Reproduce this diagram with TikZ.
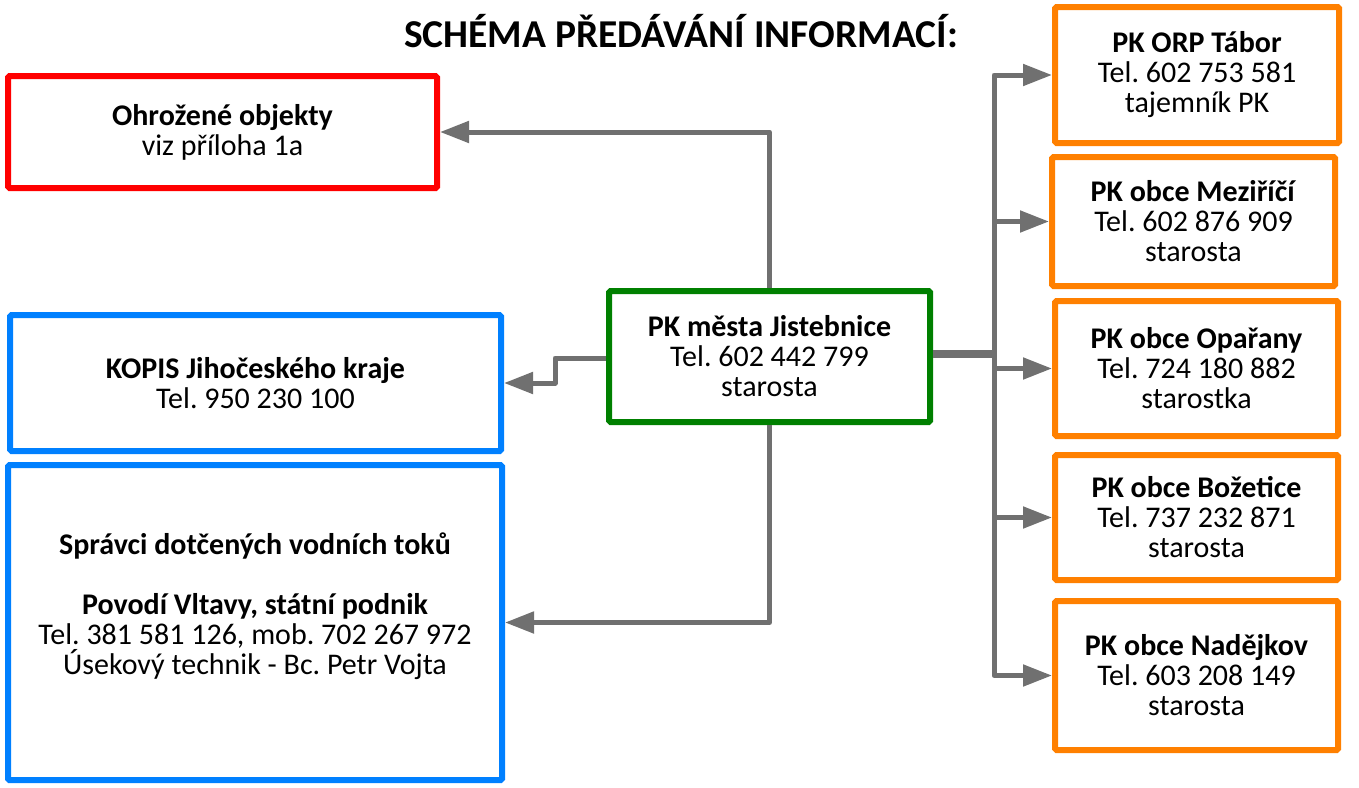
\documentclass[tikz,border=0pt]{standalone}
\usepackage{fontspec}
\setmainfont{Carlito}
\usetikzlibrary{arrows.meta,calc}
\frenchspacing
\definecolor{cred}{RGB}{255,0,0}
\definecolor{cblue}{RGB}{0,128,255}
\definecolor{cgreen}{RGB}{0,128,0}
\definecolor{corange}{RGB}{255,128,0}
\definecolor{cgray}{RGB}{112,112,112}
\tikzset{
  box/.style={draw, line width=6pt, rounded corners=1.5pt, fill=white, align=center,
    font=\fontsize{30}{30}\selectfont, inner sep=0pt},
  redbox/.style={box, draw=cred},
  bluebox/.style={box, draw=cblue},
  greenbox/.style={box, draw=cgreen},
  orangebox/.style={box, draw=corange},
  conn/.style={draw=cgray, line width=5pt, line join=round,
    -{Triangle[length=29pt,width=21pt]}},
  thick conn/.style={draw=cgray, line width=8pt},
  title/.style={font=\fontsize{39.5}{39.5}\selectfont\bfseries, inner sep=0pt}
}
\begin{document}
\begin{tikzpicture}[x=1pt,y=-1pt]
\useasboundingbox (0,0) rectangle (1359,787);

\node[title, anchor=base] (title) at (681,47) {SCHÉMA PŘEDÁVÁNÍ INFORMACÍ:};

% left boxes
\node[redbox, minimum width=429pt, minimum height=112pt] (red) at (222.5,132)
  {\textbf{Ohrožené objekty}\\viz příloha 1a};
\node[bluebox, minimum width=491pt, minimum height=136pt] (kopis) at (255.5,383)
  {\textbf{KOPIS Jihočeského kraje}\\Tel. 950 230 100};
\node[bluebox, minimum width=494pt, minimum height=315pt] (sprav) at (255,622.5) {};
\node[align=center, font=\fontsize{30}{30}\selectfont, inner sep=0pt] (spravtext) at (255,606)
  {\textbf{Správci dotčených vodních toků}\\[30pt]\textbf{Povodí Vltavy, státní podnik}\\Tel. 381 581 126, mob. 702 267 972\\Úsekový technik - Bc. Petr Vojta};

% center
\node[greenbox, minimum width=321pt, minimum height=131pt] (green) at (769.5,356.5)
  {\textbf{PK města Jistebnice}\\Tel. 602 442 799\\starosta};

% right boxes
\node[orangebox, minimum width=284pt, minimum height=136pt] (o1) at (1197,75)
  {\textbf{PK ORP Tábor}\\Tel. 602 753 581\\tajemník PK};
\node[orangebox, minimum width=283pt, minimum height=129pt] (o2) at (1193.5,221.5)
  {\textbf{PK obce Meziříčí}\\Tel. 602 876 909\\starosta};
\node[orangebox, minimum width=283pt, minimum height=135pt] (o3) at (1196.5,368.5)
  {\textbf{PK obce Opařany}\\Tel. 724 180 882\\starostka};
\node[orangebox, minimum width=283pt, minimum height=125pt] (o4) at (1196.5,517.5)
  {\textbf{PK obce Božetice}\\Tel. 737 232 871\\starosta};
\node[orangebox, minimum width=283pt, minimum height=149pt] (o5) at (1196.5,675.5)
  {\textbf{PK obce Nadějkov}\\Tel. 603 208 149\\starosta};

% connectors
\draw[conn] (green.north) |- (red.east);
\draw[conn] ([yshift=-1.5pt]green.west) -- ++(-51,0) |- (kopis.east);
\draw[conn] (green.south) |- (sprav.east);

\coordinate (bus) at (994,354);
\draw[thick conn] (green.east |- bus) -- (bus);
\draw[conn] (bus) |- (o1.west);
\draw[conn] (bus) |- (o5.west);
\draw[conn] (bus |- o2.west) -- (o2.west);
\draw[conn] (bus |- o3.west) -- (o3.west);
\draw[conn] (bus |- o4.west) -- (o4.west);
\end{tikzpicture}
\end{document}
